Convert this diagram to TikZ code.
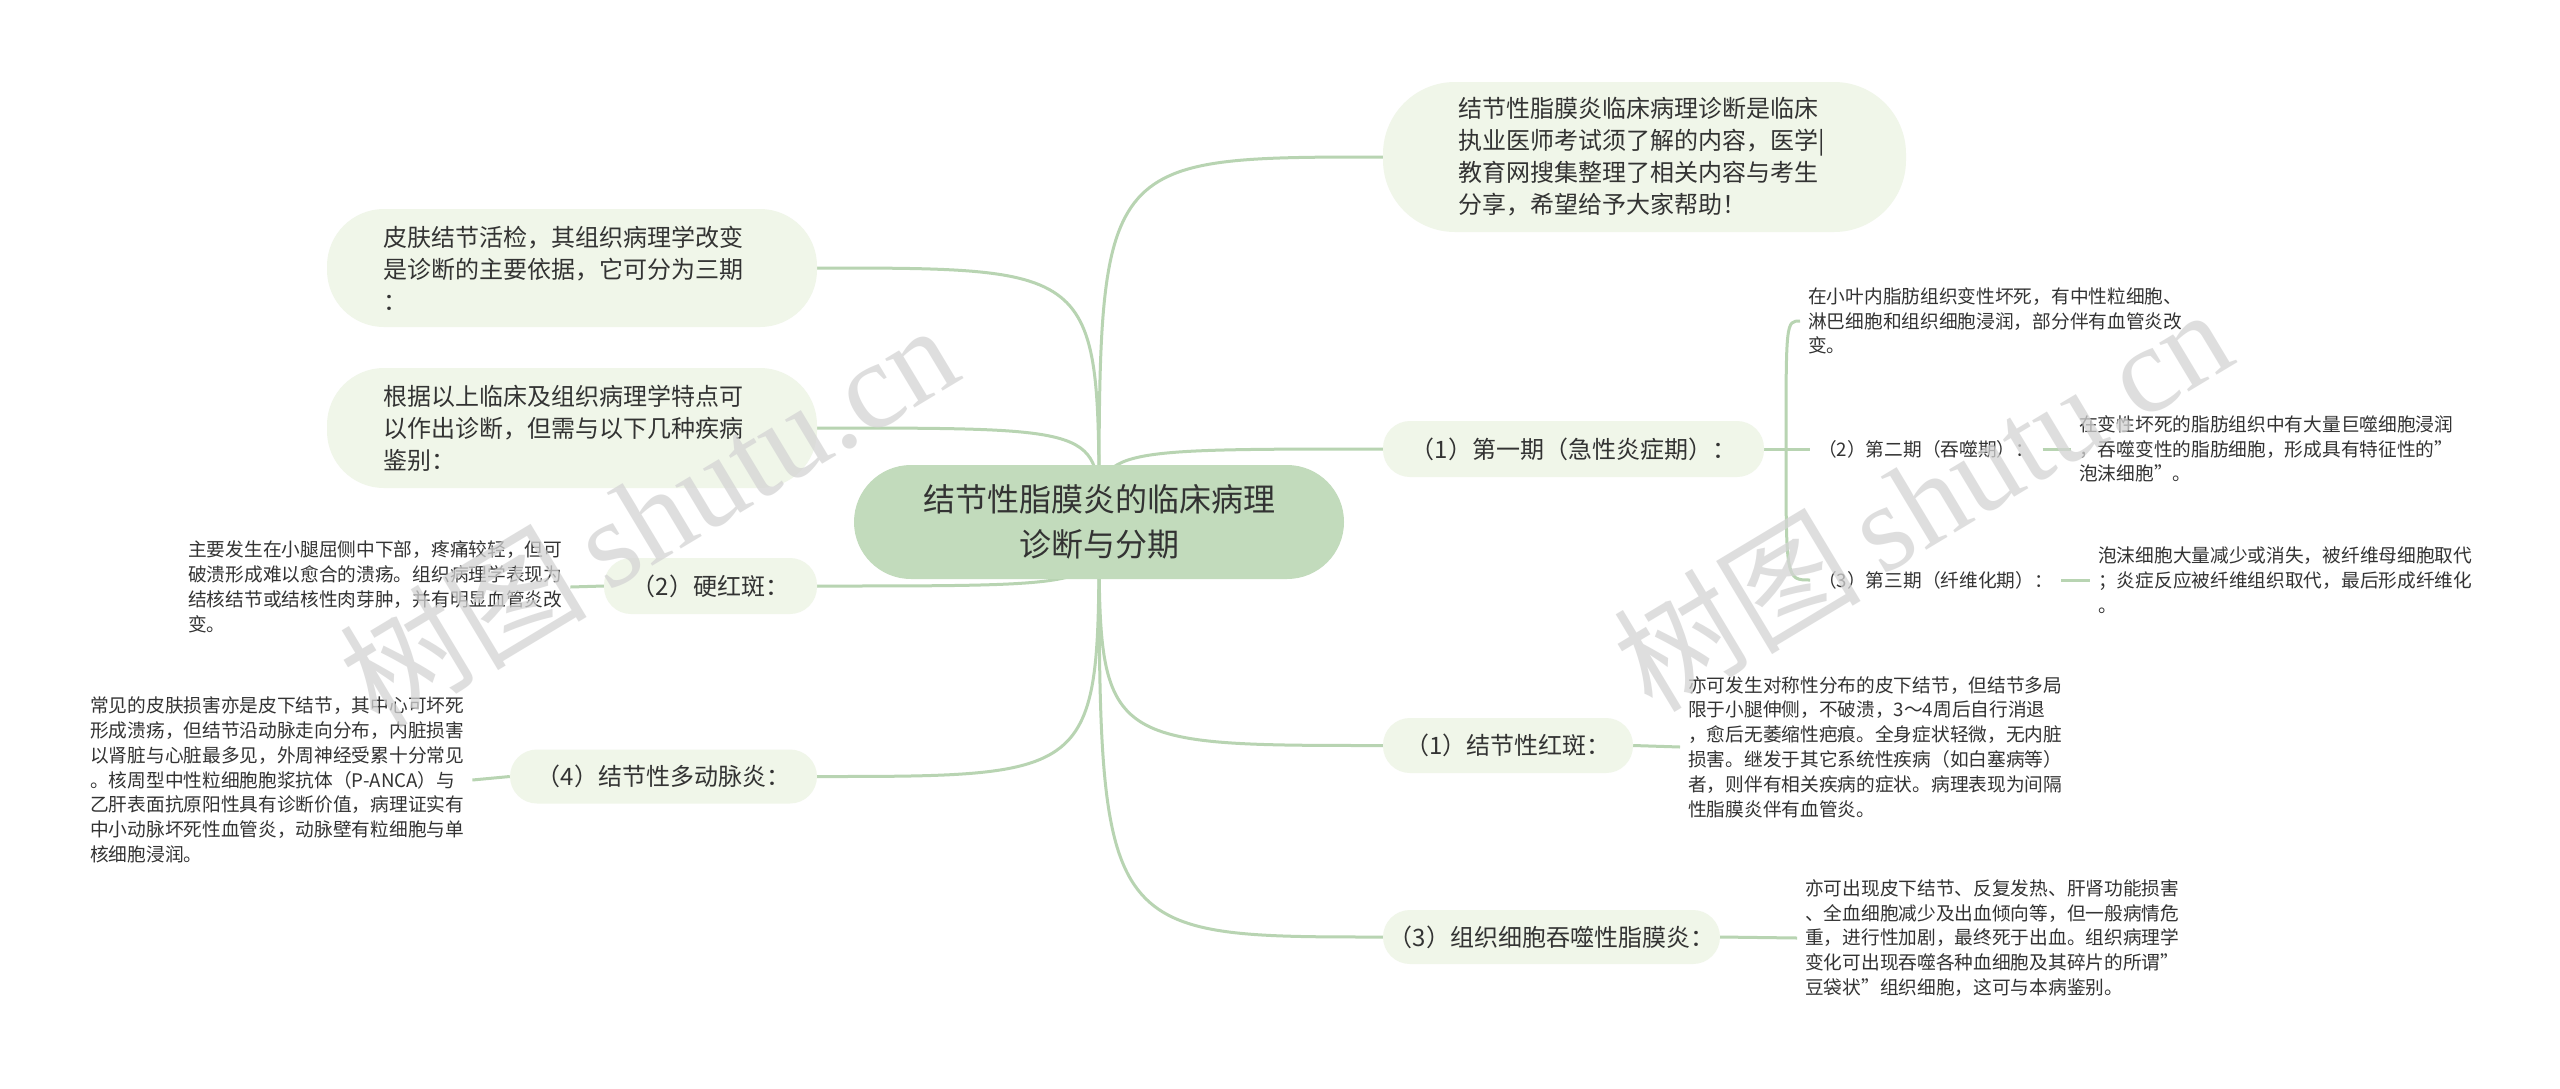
\documentclass[tikz,border=0pt]{standalone}
\usepackage{fontspec}
\setmainfont{Noto Sans CJK SC}
\newfontfamily\wmserif{Liberation Serif}
\usetikzlibrary{backgrounds}
\definecolor{mainfill}{HTML}{C2DBBC}
\definecolor{subfill}{HTML}{F0F6E9}
\definecolor{linec}{HTML}{B8D4B2}
\definecolor{txt}{HTML}{333333}
\definecolor{wm}{HTML}{D4D4D4}
\tikzset{
  centralnode/.style={fill=mainfill, rounded corners=57pt, minimum width=490pt, minimum height=114pt, align=center, text=txt, font=\fontsize{32}{45}\selectfont, inner sep=0pt},
  bigbox/.style={fill=subfill, text=txt, align=left, font=\fontsize{24}{32}\selectfont, inner ysep=0pt},
  pillnode/.style={fill=subfill, text=txt, font=\fontsize{24}{30}\selectfont, minimum height=56pt, rounded corners=27pt, inner xsep=0pt, inner ysep=0pt},
  desc/.style={text=txt, align=left, font=\fontsize{18.7}{24.8}\selectfont, inner xsep=8pt, inner ysep=2pt, anchor=west},
  stage/.style={text=txt, font=\fontsize{18.7}{24}\selectfont, inner xsep=8pt, inner ysep=2pt, anchor=west},
  conn/.style={draw=linec, line width=3pt},
  wmark/.style={text=wm, font=\fontsize{124}{124}\selectfont, rotate=31, opacity=0.75}
}
\begin{document}
\begin{tikzpicture}[x=1pt, y=-1pt]
\useasboundingbox (0,0) rectangle (2560,1088);

% main nodes
\node[centralnode] (c) at (1099,522) {结节性脂膜炎的临床病理\\诊断与分期};

\node[bigbox, text width=373pt, inner xsep=75pt, minimum height=150pt, rounded corners=72pt] (tr) at (1644.5,157)
  {结节性脂膜炎临床病理诊断是临床\\执业医师考试须了解的内容，医学|\\教育网搜集整理了相关内容与考生\\分享，希望给予大家帮助！};

\node[bigbox, text width=378pt, inner xsep=56pt, minimum height=118pt, rounded corners=57pt] (ba) at (572,268)
  {皮肤结节活检，其组织病理学改变\\是诊断的主要依据，它可分为三期\\：};

\node[bigbox, text width=378pt, inner xsep=56pt, minimum height=120pt, rounded corners=57pt] (bb) at (572,428)
  {根据以上临床及组织病理学特点可\\以作出诊断，但需与以下几种疾病\\鉴别：};

\node[pillnode, minimum width=213pt] (hong) at (710.5,586) {（2）硬红斑：};
\node[pillnode, minimum width=307pt, minimum height=54pt] (pan) at (663.5,776.5) {（4）结节性多动脉炎：};
\node[pillnode, minimum width=381pt] (r1) at (1573.5,449) {（1）第一期（急性炎症期）：};
\node[pillnode, minimum width=250pt, minimum height=55pt] (r2) at (1508,745.5) {（1）结节性红斑：};
\node[pillnode, minimum width=337pt, minimum height=54pt] (r3) at (1551.5,937) {（3）组织细胞吞噬性脂膜炎：};

% descriptions
\node[desc] (dh) at (180,587)
  {主要发生在小腿屈侧中下部，疼痛较轻，但可\\破溃形成难以愈合的溃疡。组织病理学表现为\\结核结节或结核性肉芽肿，并有明显血管炎改\\变。};
\node[desc] (dp) at (82,780)
  {常见的皮肤损害亦是皮下结节，其中心可坏死\\形成溃疡，但结节沿动脉走向分布，内脏损害\\以肾脏与心脏最多见，外周神经受累十分常见\\。核周型中性粒细胞胞浆抗体（P-ANCA）与\\乙肝表面抗原阳性具有诊断价值，病理证实有\\中小动脉坏死性血管炎，动脉壁有粒细胞与单\\核细胞浸润。};
\node[desc] (a1) at (1800,321)
  {在小叶内脂肪组织变性坏死，有中性粒细胞、\\淋巴细胞和组织细胞浸润，部分伴有血管炎改\\变。};
\node[stage] (s2) at (1810,449) {（2）第二期（吞噬期）：};
\node[stage] (s3) at (1810,580) {（3）第三期（纤维化期）：};
\node[desc] (d2) at (2071,449)
  {在变性坏死的脂肪组织中有大量巨噬细胞浸润\\，吞噬变性的脂肪细胞，形成具有特征性的”\\泡沫细胞”。};
\node[desc] (d3) at (2090,580)
  {泡沫细胞大量减少或消失，被纤维母细胞取代\\；炎症反应被纤维组织取代，最后形成纤维化\\。};
\node[desc] (de) at (1680,747)
  {亦可发生对称性分布的皮下结节，但结节多局\\限于小腿伸侧，不破溃，3～4周后自行消退\\，愈后无萎缩性疤痕。全身症状轻微，无内脏\\损害。继发于其它系统性疾病（如白塞病等）\\者，则伴有相关疾病的症状。病理表现为间隔\\性脂膜炎伴有血管炎。};
\node[desc] (df) at (1797,938)
  {亦可出现皮下结节、反复发热、肝肾功能损害\\、全血细胞减少及出血倾向等，但一般病情危\\重，进行性加剧，最终死于出血。组织病理学\\变化可出现吞噬各种血细胞及其碎片的所谓”\\豆袋状”组织细胞，这可与本病鉴别。};

\coordinate (j) at (1786,449);

\begin{pgfonlayer}{background}
  \fill[white] (0,0) rectangle (2560,1088);
  \foreach \t in {tr,r1,r2,r3}
    \draw[conn] (c.center) .. controls (c.center |- \t.west) .. (\t.west);
  \foreach \t in {ba,bb,hong,pan}
    \draw[conn] (c.center) .. controls (c.center |- \t.east) .. (\t.east);
  \draw[conn] (dh.east) -- (hong.west);
  \draw[conn] (dp.east) -- (pan.west);
  \draw[conn] (r2.east) -- (de.west);
  \draw[conn] (r3.east) -- (df.west);
  \draw[conn] (r1.east) -- (j);
  \draw[conn] (j) .. controls (j |- a1.west) .. (a1.west);
  \draw[conn] (j) -- (s2.west);
  \draw[conn] (j) .. controls (j |- s3.west) .. (s3.west);
  \draw[conn] (s2.east) -- (d2.west);
  \draw[conn] (s3.east) -- (d3.west);
\end{pgfonlayer}

% watermarks
\node[wmark] (w1) at (648,514) {树图\,{\wmserif shutu.cn}};
\node[wmark] (w2) at (1922,498) {树图\,{\wmserif shutu.cn}};
\end{tikzpicture}
\end{document}
